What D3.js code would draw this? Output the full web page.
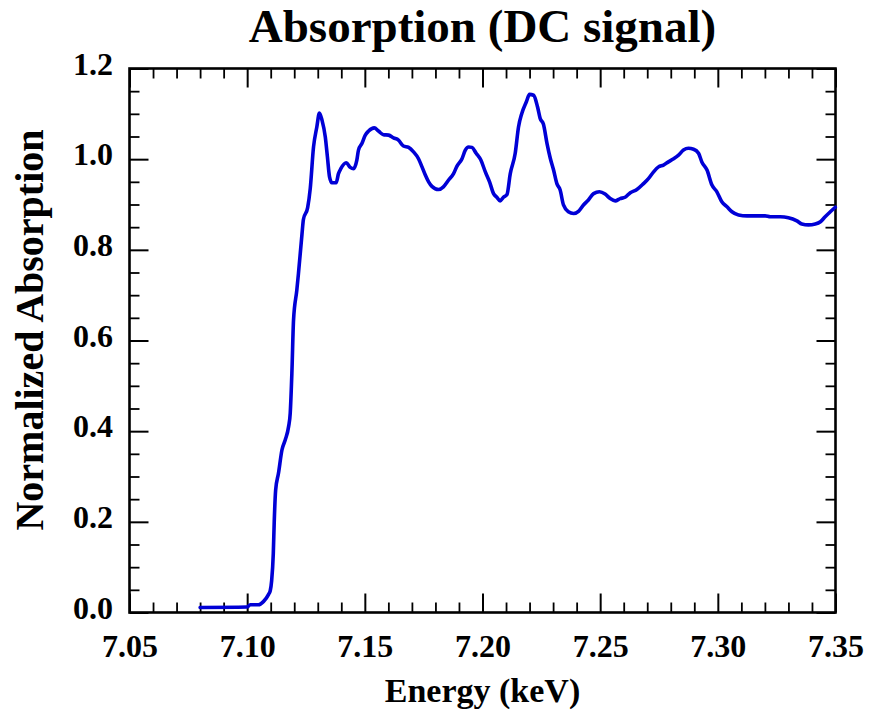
<!DOCTYPE html>
<html>
<head>
<meta charset="utf-8">
<script src="https://cdn.jsdelivr.net/npm/d3@7"></script>
<style>
  body { margin: 0; background: #fff; }
  svg { display: block; }
  text { font-family: "Liberation Serif", "Times New Roman", serif; font-weight: bold; fill: #000; }
</style>
</head>
<body>
<svg id="chart" width="869" height="711"></svg>
<script>
// XANES scan: photon energy (keV) and normalized absorption
const energy = [
  7.0800, 7.0999, 7.1013, 7.1048, 7.1069, 7.1091, 7.1098, 7.1104, 7.1111, 7.1115,
  7.1121, 7.1133, 7.1148, 7.1162, 7.1176, 7.1183, 7.1190, 7.1197, 7.1211, 7.1218,
  7.1233, 7.1239, 7.1257, 7.1268, 7.1282, 7.1296, 7.1307, 7.1318, 7.1332, 7.1341,
  7.1350, 7.1360, 7.1378, 7.1388, 7.1398, 7.1421, 7.1438, 7.1452, 7.1466, 7.1473,
  7.1488, 7.1502, 7.1516, 7.1540, 7.1558, 7.1579, 7.1601, 7.1622, 7.1643, 7.1664,
  7.1686, 7.1707, 7.1728, 7.1743, 7.1757, 7.1771, 7.1785, 7.1813, 7.1834, 7.1856,
  7.1877, 7.1891, 7.1913, 7.1927, 7.1941, 7.1955, 7.1973, 7.1993, 7.2012, 7.2030,
  7.2047, 7.2061, 7.2075, 7.2089, 7.2104, 7.2118, 7.2139, 7.2153, 7.2167, 7.2186,
  7.2200, 7.2217, 7.2234, 7.2245, 7.2259, 7.2274, 7.2288, 7.2302, 7.2316, 7.2330,
  7.2344, 7.2365, 7.2387, 7.2408, 7.2429, 7.2450, 7.2472, 7.2497, 7.2521, 7.2543,
  7.2564, 7.2585, 7.2606, 7.2628, 7.2656, 7.2684, 7.2705, 7.2727, 7.2748, 7.2769,
  7.2790, 7.2812, 7.2833, 7.2854, 7.2875, 7.2897, 7.2918, 7.2932, 7.2954, 7.2975,
  7.2996, 7.3017, 7.3039, 7.3060, 7.3088, 7.3124, 7.3166, 7.3201, 7.3223, 7.3265,
  7.3300, 7.3336, 7.3357, 7.3385, 7.3414, 7.3436, 7.3456, 7.3478, 7.3499
];
const absorption = [
  0.011, 0.012, 0.017, 0.017, 0.024, 0.040, 0.048, 0.070, 0.130, 0.200,
  0.270, 0.307, 0.359, 0.381, 0.410, 0.440, 0.528, 0.645, 0.711, 0.748,
  0.835, 0.867, 0.893, 0.935, 1.027, 1.071, 1.102, 1.086, 1.049, 1.005,
  0.961, 0.948, 0.948, 0.968, 0.979, 0.992, 0.982, 0.979, 0.998, 1.020,
  1.035, 1.053, 1.062, 1.069, 1.062, 1.054, 1.053, 1.047, 1.042, 1.029,
  1.026, 1.016, 1.001, 0.983, 0.965, 0.950, 0.940, 0.933, 0.939, 0.954,
  0.968, 0.984, 1.001, 1.020, 1.027, 1.026, 1.013, 0.998, 0.972, 0.950,
  0.924, 0.916, 0.908, 0.916, 0.922, 0.968, 1.013, 1.071, 1.101, 1.126,
  1.143, 1.141, 1.115, 1.090, 1.077, 1.035, 1.002, 0.976, 0.946, 0.932,
  0.899, 0.884, 0.880, 0.885, 0.899, 0.910, 0.924, 0.928, 0.923, 0.913,
  0.908, 0.913, 0.916, 0.926, 0.933, 0.946, 0.957, 0.972, 0.983, 0.987,
  0.994, 1.001, 1.009, 1.020, 1.024, 1.022, 1.013, 0.994, 0.976, 0.943,
  0.928, 0.906, 0.895, 0.884, 0.877, 0.875, 0.875, 0.875, 0.873, 0.873,
  0.871, 0.864, 0.857, 0.855, 0.857, 0.862, 0.873, 0.884, 0.894
];
const xTicks = [7.05, 7.10, 7.15, 7.20, 7.25, 7.30, 7.35];
const yTicks = [0.0, 0.2, 0.4, 0.6, 0.8, 1.0, 1.2];
const titleText = "Absorption (DC signal)";
const xLabelText = "Energy (keV)";
const yLabelText = "Normalized Absorption";

const svg = d3.select("#chart");
const plotLeft = 129.5, plotRight = 835.5, plotTop = 68.5, plotBottom = 612.5;

const x = d3.scaleLinear().domain([7.05, 7.35]).range([plotLeft, plotRight]);
const y = d3.scaleLinear().domain([0, 1.2]).range([plotBottom, plotTop]);

// minor ticks: 0.01 keV on x, 0.05 on y
const isMajor = (v, majors) => majors.some(m => Math.abs(m - v) < 1e-6);
const xMinor = d3.range(0, 31).map(i => 7.05 + i * 0.01).filter(v => !isMajor(v, xTicks));
const yMinor = d3.range(0, 25).map(i => i * 0.05).filter(v => !isMajor(v, yTicks));

const majorLen = 19, minorLen = 10;
const fmtX = d3.format(".2f"), fmtY = d3.format(".1f");

function styleTicks(g, width) {
  g.select(".domain").remove();
  g.selectAll(".tick line").attr("stroke", "#000").attr("stroke-width", width);
}
function styleLabels(sel) {
  sel.style("font-size", "32px")
    .style("font-family", "Liberation Serif, serif")
    .style("font-weight", "bold")
    .attr("fill", "#000");
}

// bottom axis (labelled)
svg.append("g").attr("transform", `translate(0,${plotBottom})`)
  .call(d3.axisBottom(x).tickValues(xTicks).tickSize(-majorLen).tickFormat(fmtX))
  .call(g => styleTicks(g, 2))
  .call(g => g.selectAll(".tick text").attr("y", 44.5).attr("dy", 0).call(styleLabels));
svg.append("g").attr("transform", `translate(0,${plotBottom})`)
  .call(d3.axisBottom(x).tickValues(xMinor).tickSize(-minorLen).tickFormat(""))
  .call(g => styleTicks(g, 1.8));

// top axis (mirror)
svg.append("g").attr("transform", `translate(0,${plotTop})`)
  .call(d3.axisTop(x).tickValues(xTicks).tickSize(-majorLen).tickFormat(""))
  .call(g => styleTicks(g, 2));
svg.append("g").attr("transform", `translate(0,${plotTop})`)
  .call(d3.axisTop(x).tickValues(xMinor).tickSize(-minorLen).tickFormat(""))
  .call(g => styleTicks(g, 1.8));

// left axis (labelled)
svg.append("g").attr("transform", `translate(${plotLeft},0)`)
  .call(d3.axisLeft(y).tickValues(yTicks).tickSize(-majorLen).tickFormat(fmtY))
  .call(g => styleTicks(g, 2))
  .call(g => g.selectAll(".tick text").attr("x", -16.5).attr("dy", "0.18em").call(styleLabels));
svg.append("g").attr("transform", `translate(${plotLeft},0)`)
  .call(d3.axisLeft(y).tickValues(yMinor).tickSize(-minorLen).tickFormat(""))
  .call(g => styleTicks(g, 1.8));

// right axis (mirror)
svg.append("g").attr("transform", `translate(${plotRight},0)`)
  .call(d3.axisRight(y).tickValues(yTicks).tickSize(-majorLen).tickFormat(""))
  .call(g => styleTicks(g, 2));
svg.append("g").attr("transform", `translate(${plotRight},0)`)
  .call(d3.axisRight(y).tickValues(yMinor).tickSize(-minorLen).tickFormat(""))
  .call(g => styleTicks(g, 1.8));

// plot frame
svg.append("rect")
  .attr("x", plotLeft).attr("y", plotTop)
  .attr("width", plotRight - plotLeft).attr("height", plotBottom - plotTop)
  .attr("fill", "none").attr("stroke", "#000").attr("stroke-width", 2.6);

// absorption curve
const pts = energy.map((e, i) => [e, absorption[i]]);
svg.append("path")
  .datum(pts)
  .attr("fill", "none")
  .attr("stroke", "#0000d6")
  .attr("stroke-width", 3.6)
  .attr("stroke-linejoin", "round")
  .attr("stroke-linecap", "round")
  .attr("d", d3.line().x(d => x(d[0])).y(d => y(d[1])).curve(d3.curveMonotoneX));

// title and axis labels
svg.append("text")
  .attr("x", (plotLeft + plotRight) / 2).attr("y", 42)
  .attr("text-anchor", "middle")
  .style("font-size", "47px")
  .text(titleText);

svg.append("text")
  .attr("x", (plotLeft + plotRight) / 2).attr("y", 702)
  .attr("text-anchor", "middle")
  .style("font-size", "34px")
  .text(xLabelText);

svg.append("text")
  .attr("transform", "translate(43,330) rotate(-90)")
  .attr("text-anchor", "middle")
  .style("font-size", "40px")
  .text(yLabelText);
</script>
</body>
</html>
